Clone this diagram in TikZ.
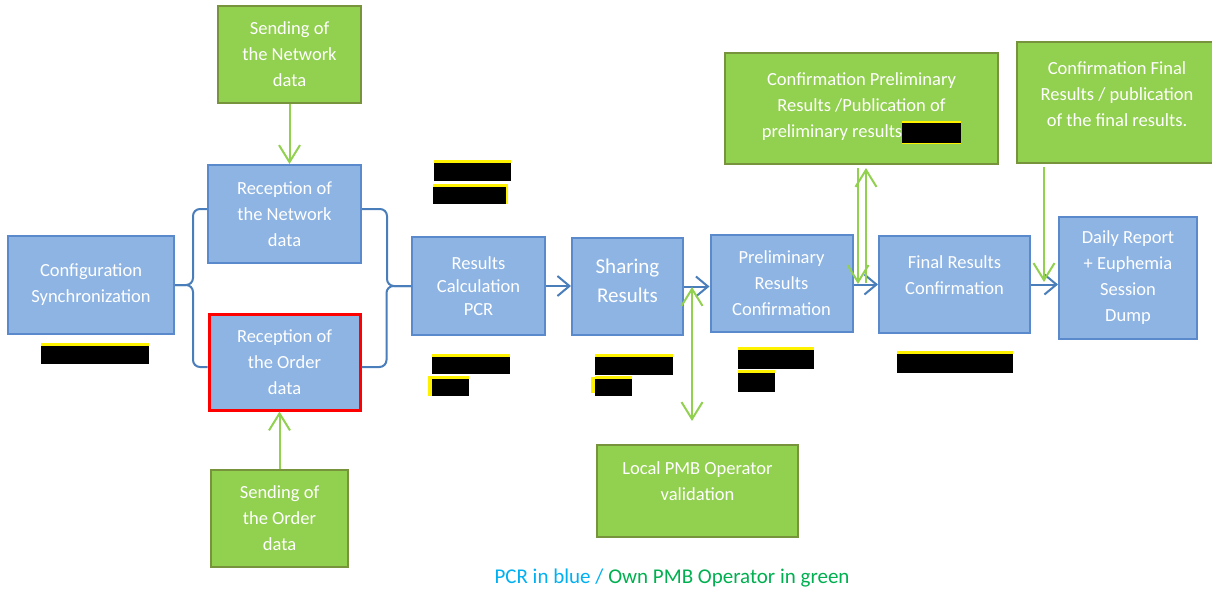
\documentclass[tikz,border=0pt]{standalone}
\usepackage{fontspec}
\setmainfont{Carlito}
\usetikzlibrary{arrows.meta,positioning,calc}
\definecolor{boxblue}{HTML}{8EB4E3}
\definecolor{edgeblue}{HTML}{5A8ACB}
\definecolor{lineblue}{HTML}{4A7EBB}
\definecolor{boxgreen}{HTML}{92D050}
\definecolor{edgegreen}{HTML}{77933C}
\definecolor{linegreen}{HTML}{92D050}
\definecolor{pcrblue}{HTML}{00B0F0}
\definecolor{pmbgreen}{HTML}{00B050}
\newcommand\hidebar[1]{\textcolor{yellow}{\rule[-6.5pt]{#1}{23pt}}\hspace{-#1}\textcolor{black}{\rule[-5pt]{#1}{20pt}}}

\begin{document}
\begin{tikzpicture}[x=1pt, y=-1pt]
  \tikzset{bbox/.style={draw=edgeblue, line width=2pt, fill=boxblue, text=white,
      align=center, inner sep=0pt, font=\fontsize{18.5}{26}\selectfont},
    gbox/.style={bbox, draw=edgegreen, fill=boxgreen},
    bline/.style={draw=lineblue, line width=2pt, >={Straight Barb[length=12pt,width=20pt]}, ->},
    gline/.style={draw=linegreen, line width=2pt, >={Straight Barb[length=17pt,width=21pt]}},
    brace/.style={draw=lineblue, line width=2pt, rounded corners=7pt}}
  \useasboundingbox (0,0) rectangle (1212,591);

  \node[bbox, minimum width=166, minimum height=98] (conf) at (91,285) {Configuration\\Synchronization};
  \node[bbox, minimum width=153, minimum height=98] (rnet) at (284.5,214) {Reception of\\the Network\\data};
  \node[bbox, draw=red, line width=3pt, minimum width=151, minimum height=96] (rord) at (284.5,362) {Reception of\\the Order\\data};
  \node[gbox, minimum width=143, minimum height=97] (snet) at (289.5,54.5) {Sending of\\the Network\\data};
  \node[gbox, minimum width=137, minimum height=97] (sord) at (279.5,518.5) {Sending of\\the Order\\data};
  \node[bbox, minimum width=133, minimum height=98, font=\fontsize{18.5}{23}\selectfont] (calc) at (478.5,286) {Results\\Calculation\\PCR};
  \node[bbox, minimum width=111, minimum height=97, text depth=11pt, font=\fontsize{21}{29}\selectfont] (share) at (627.5,286.5) {Sharing\\Results};
  \node[bbox, minimum width=142, minimum height=97] (prel) at (781.5,283) {Preliminary\\Results\\Confirmation};
  \node[bbox, minimum width=151, minimum height=97, text depth=19pt] (final) at (954.5,284.5) {Final Results\\Confirmation};
  \node[bbox, minimum width=138, minimum height=122] (daily) at (1128,278) {Daily Report\\+ Euphemia\\Session\\Dump};
  \node[gbox, minimum width=273, minimum height=111] (cprel) at (861.5,108.5) {Confirmation Preliminary\\Results /Publication of\\preliminary results\hidebar{59pt}};
  \node[gbox, minimum width=200, minimum height=120, text depth=17pt] (cfin) at (1117,102.5) {Confirmation Final\\Results / publication\\of the final results.};
  \node[gbox, minimum width=201, minimum height=92, text depth=20pt] (lpmb) at (697.5,491) {Local PMB Operator\\validation};

  \draw[brace] (conf.east) -- ++(18,0) |- ([yshift=5pt]rnet.west);
  \draw[brace] (conf.east) -- ++(18,0) |- ([yshift=-5pt]rord.west);
  \draw[brace] ([yshift=5pt]rnet.east) -- ++(25,0) |- (calc.west);
  \draw[brace] ([yshift=-5pt]rord.east) -- ++(25,0) |- (calc.west);

  \draw[bline] (calc.east) -- (share.west |- calc.east);
  \draw[bline] (share.east) -- (prel.west |- share.east);
  \draw[bline] (prel.east |- final.west) -- (final.west);
  \draw[bline] (final.east) -- (daily.west |- final.east);

  \coordinate (lpa) at (692,287);
  \coordinate (cpd) at (858,284);
  \coordinate (cpu) at (866,283);
  \coordinate (cfd) at (1044,282);
  \draw[gline, ->] (snet.south) -- (snet.south |- rnet.north);
  \draw[gline, ->] (sord.north) -- (sord.north |- rord.south);
  \draw[gline, <->] (lpa) -- ([yshift=23pt]lpmb.north -| lpa);
  \draw[gline, ->] ([yshift=-3pt]cprel.south -| cpd) -- (cpd);
  \draw[gline, ->] (cpu) -- ([yshift=-3pt]cprel.south -| cpu);
  \draw[gline, ->] ([yshift=-3pt]cfin.south -| cfd) -- (cfd);

  \foreach \xa/\ya/\xb/\yb in {41/346/149/364, 434/163/511/181, 433/187/506/204,
      432/357/510/374, 432/379/469/396, 595/357/673/375, 595/379/632/396,
      738/350/814/369, 738/373/775/392, 897/354/1013/373}
    {\fill[yellow] (\xa,\ya-3) rectangle (\xb,\ya);
     \fill[black] (\xa,\ya) rectangle (\xb,\yb);}
  \fill[yellow] (506,184) rectangle (508,204);
  \fill[yellow] (428,376) rectangle (432,396);
  \fill[yellow] (591,377) rectangle (595,393);

  \node[font=\fontsize{21}{25}\selectfont, inner sep=0pt] (note) at (672,578)
    {\textcolor{pcrblue}{PCR in blue /} \textcolor{pmbgreen}{Own PMB Operator in green}};
\end{tikzpicture}
\end{document}
